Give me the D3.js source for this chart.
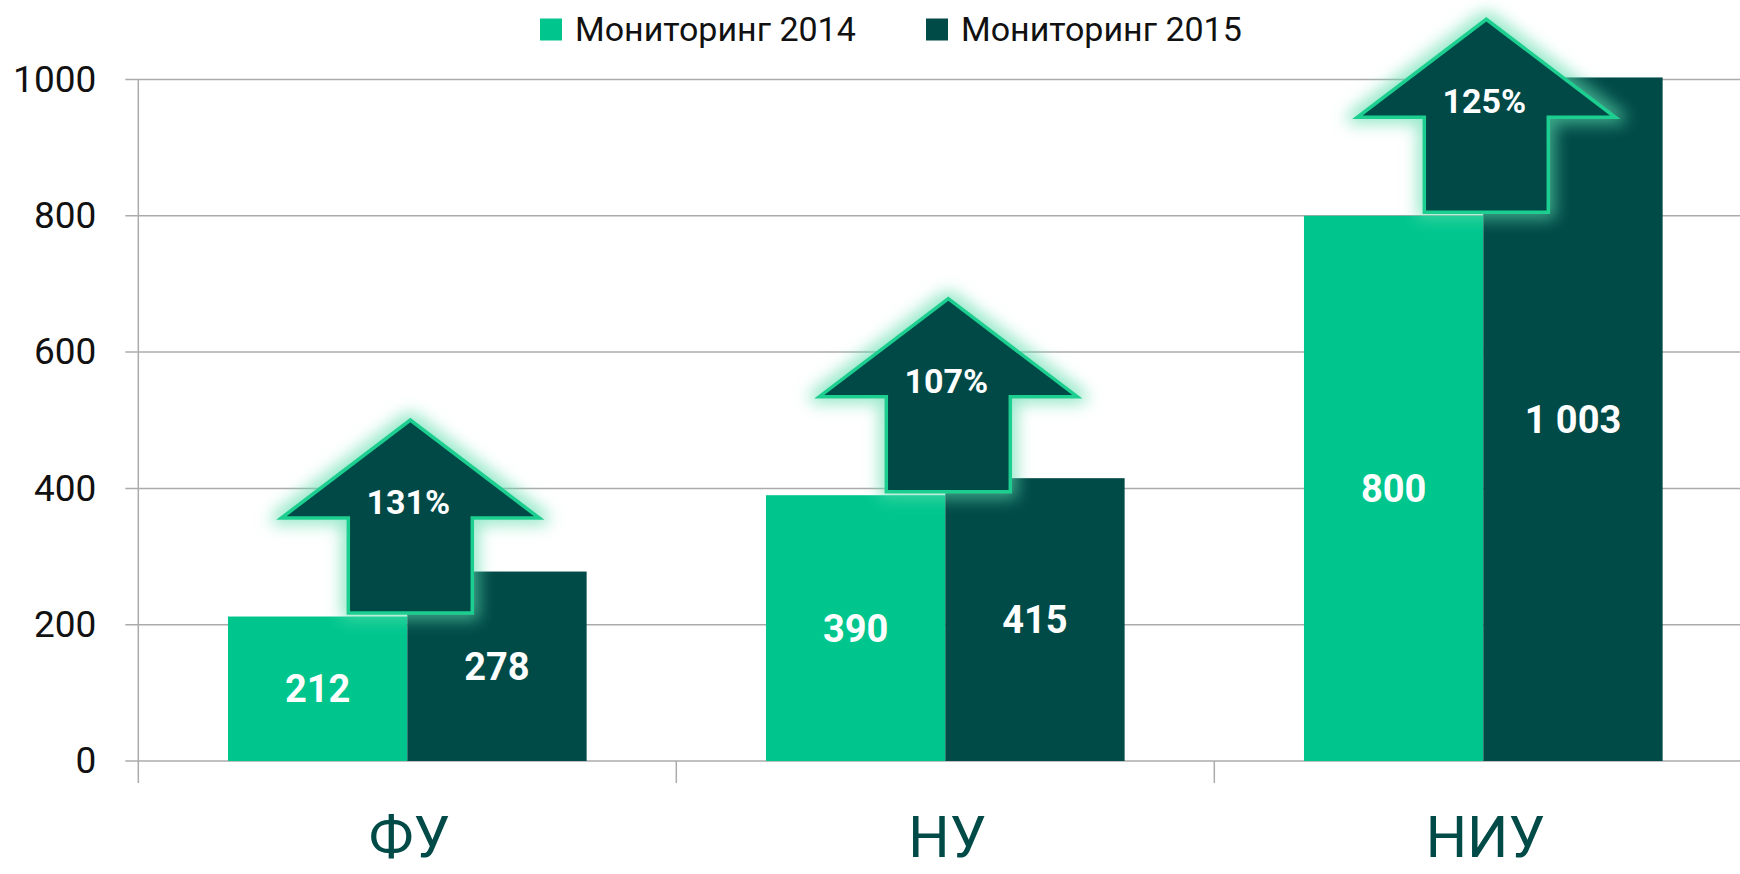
<!DOCTYPE html>
<html>
<head>
<meta charset="utf-8">
<script src="https://cdn.jsdelivr.net/npm/d3@7"></script>
<style>
    body { margin: 0; background: #fff; }
    #chart { width: 1740px; height: 874px; }
    text { font-family: Roboto, "Open Sans", sans-serif; }
</style>
</head>
<body>
<div id="chart"></div>
<script>

// chart data
var categories = ["ФУ", "НУ", "НИУ"];
var seriesNames = ["Мониторинг 2014", "Мониторинг 2015"];
var values2014 = [212, 390, 800];
var values2015 = [278, 415, 1003];
var growthLabels = ["131%", "107%", "125%"];
var yTicks = [0, 200, 400, 600, 800, 1000];

var colors = ["#00c68d", "#004a47"];
var arrowStroke = "#1ccf90";
var catColor = "#004a47";

var width = 1740, height = 874;

var svg = d3.select("#chart").append("svg")
    .attr("width", width)
    .attr("height", height);

// soft glow for the arrows
var defs = svg.append("defs");
var glow = defs.append("filter")
    .attr("id", "glow")
    .attr("x", "-30%").attr("y", "-30%")
    .attr("width", "160%").attr("height", "160%");
glow.append("feMorphology")
    .attr("in", "SourceAlpha").attr("operator", "dilate").attr("radius", 5)
    .attr("result", "thick");
glow.append("feGaussianBlur")
    .attr("in", "thick").attr("stdDeviation", 8)
    .attr("result", "blur");
glow.append("feFlood").attr("flood-color", "#5fdcae").attr("flood-opacity", 0.65);
glow.append("feComposite").attr("in2", "blur").attr("operator", "in").attr("result", "halo");
var merge = glow.append("feMerge");
merge.append("feMergeNode").attr("in", "halo");
merge.append("feMergeNode").attr("in", "SourceGraphic");

// scales
var plotLeft = 138.3, catWidth = 538;
var x = d3.scaleBand()
    .domain(categories)
    .range([plotLeft, plotLeft + catWidth * categories.length])
    .padding(0);

var x1 = d3.scaleBand()
    .domain([0, 1])
    .range([0, x.bandwidth()])
    .paddingInner(0)
    .paddingOuter(0.5);

var y = d3.scaleLinear()
    .domain([0, 1000])
    .range([761, 79.5]);

var fmt = d3.formatLocale({ decimal: ",", thousands: "\u00a0", grouping: [3], currency: ["", ""] }).format(",d");

// gridlines
svg.append("g").selectAll("line")
    .data(yTicks)
    .enter().append("line")
    .attr("x1", plotLeft - 13)
    .attr("x2", width)
    .attr("y1", function(d) { return y(d); })
    .attr("y2", function(d) { return y(d); })
    .attr("stroke", "#ababab")
    .attr("stroke-width", 1.5);

// y axis
var yAxis = d3.axisLeft(y).tickValues(yTicks).tickFormat(d3.format("d")).tickSize(0).tickPadding(42);
var yg = svg.append("g")
    .attr("transform", "translate(" + plotLeft + ",0)")
    .call(yAxis);
yg.select(".domain").remove();
yg.selectAll("text")
    .attr("font-size", 37)
    .attr("fill", "#111")
    .style("font-family", "Roboto, sans-serif");

svg.append("line")
    .attr("x1", plotLeft).attr("x2", plotLeft)
    .attr("y1", y(1000)).attr("y2", y(0) + 22)
    .attr("stroke", "#ababab").attr("stroke-width", 1.5);

// category separators
svg.append("g").selectAll("line")
    .data(categories.slice(1))
    .enter().append("line")
    .attr("x1", function(d) { return x(d); })
    .attr("x2", function(d) { return x(d); })
    .attr("y1", y(0))
    .attr("y2", y(0) + 22)
    .attr("stroke", "#ababab").attr("stroke-width", 1.5);

// bars
var rows = categories.map(function(c, i) {
    return { cat: c, vals: [values2014[i], values2015[i]], growth: growthLabels[i] };
});

var groups = svg.append("g").selectAll(".grp")
    .data(rows)
    .enter().append("g")
    .attr("class", "grp")
    .attr("transform", function(d) { return "translate(" + x(d.cat) + ",0)"; });

groups.selectAll("rect")
    .data(function(d) { return d.vals; })
    .enter().append("rect")
    .attr("x", function(d, i) { return x1(i); })
    .attr("width", x1.bandwidth())
    .attr("y", function(d) { return y(d); })
    .attr("height", function(d) { return y(0) - y(d); })
    .attr("fill", function(d, i) { return colors[i]; });

// arrows (sit on the 2014 bar, centred on the category)
var headHalf = 129, shaftHalf = 62, headH = 98, shaftH = 95, gap = 3.5;

var arrows = svg.append("g").selectAll(".arrow")
    .data(rows)
    .enter().append("g")
    .attr("class", "arrow");

arrows.append("path")
    .attr("d", function(d) {
        var cx = x(d.cat) + x.bandwidth() / 2 + 3;
        var b = y(d.vals[0]) - gap;
        var hb = b - shaftH;
        var tip = hb - headH;
        return "M" + (cx - shaftHalf) + "," + b +
            "L" + (cx - shaftHalf) + "," + hb +
            "L" + (cx - headHalf) + "," + hb +
            "L" + cx + "," + tip +
            "L" + (cx + headHalf) + "," + hb +
            "L" + (cx + shaftHalf) + "," + hb +
            "L" + (cx + shaftHalf) + "," + b + "Z";
    })
    .attr("fill", colors[1])
    .attr("stroke", arrowStroke)
    .attr("stroke-width", 3.5)
    .attr("stroke-linejoin", "miter")
    .attr("filter", "url(#glow)");

arrows.append("text")
    .attr("x", function(d) { return x(d.cat) + x.bandwidth() / 2 + 1; })
    .attr("y", function(d) { return y(d.vals[0]) - gap - shaftH - 4; })
    .attr("text-anchor", "middle")
    .attr("font-size", 34)
    .attr("font-weight", "bold")
    .attr("fill", "#fff")
    .text(function(d) { return d.growth; });

// value labels
groups.selectAll(".val")
    .data(function(d) { return d.vals; })
    .enter().append("text")
    .attr("class", "val")
    .attr("x", function(d, i) { return x1(i) + x1.bandwidth() / 2; })
    .attr("y", function(d) { return (y(d) + y(0)) / 2; })
    .attr("dy", "0.36em")
    .attr("text-anchor", "middle")
    .attr("font-size", 38)
    .attr("font-weight", "bold")
    .attr("fill", "#fff")
    .text(function(d) { return fmt(d); });

// category labels
svg.append("g").selectAll("text")
    .data(categories)
    .enter().append("text")
    .attr("x", function(d) { return x(d) + x.bandwidth() / 2 + 2; })
    .attr("y", 857)
    .attr("text-anchor", "middle")
    .attr("font-size", 58)
    .attr("fill", catColor)
    .text(function(d) { return d; });

// legend
var legend = svg.append("g").selectAll(".leg")
    .data(seriesNames)
    .enter().append("g")
    .attr("class", "leg")
    .attr("transform", function(d, i) { return "translate(" + (540 + i * 386) + ",0)"; });

legend.append("rect")
    .attr("x", 0).attr("y", 18.5)
    .attr("width", 22).attr("height", 22)
    .attr("fill", function(d, i) { return colors[i]; });

legend.append("text")
    .attr("x", 35).attr("y", 40.5)
    .attr("font-size", 34)
    .attr("fill", "#111")
    .text(function(d) { return d; });

</script>
</body>
</html>
